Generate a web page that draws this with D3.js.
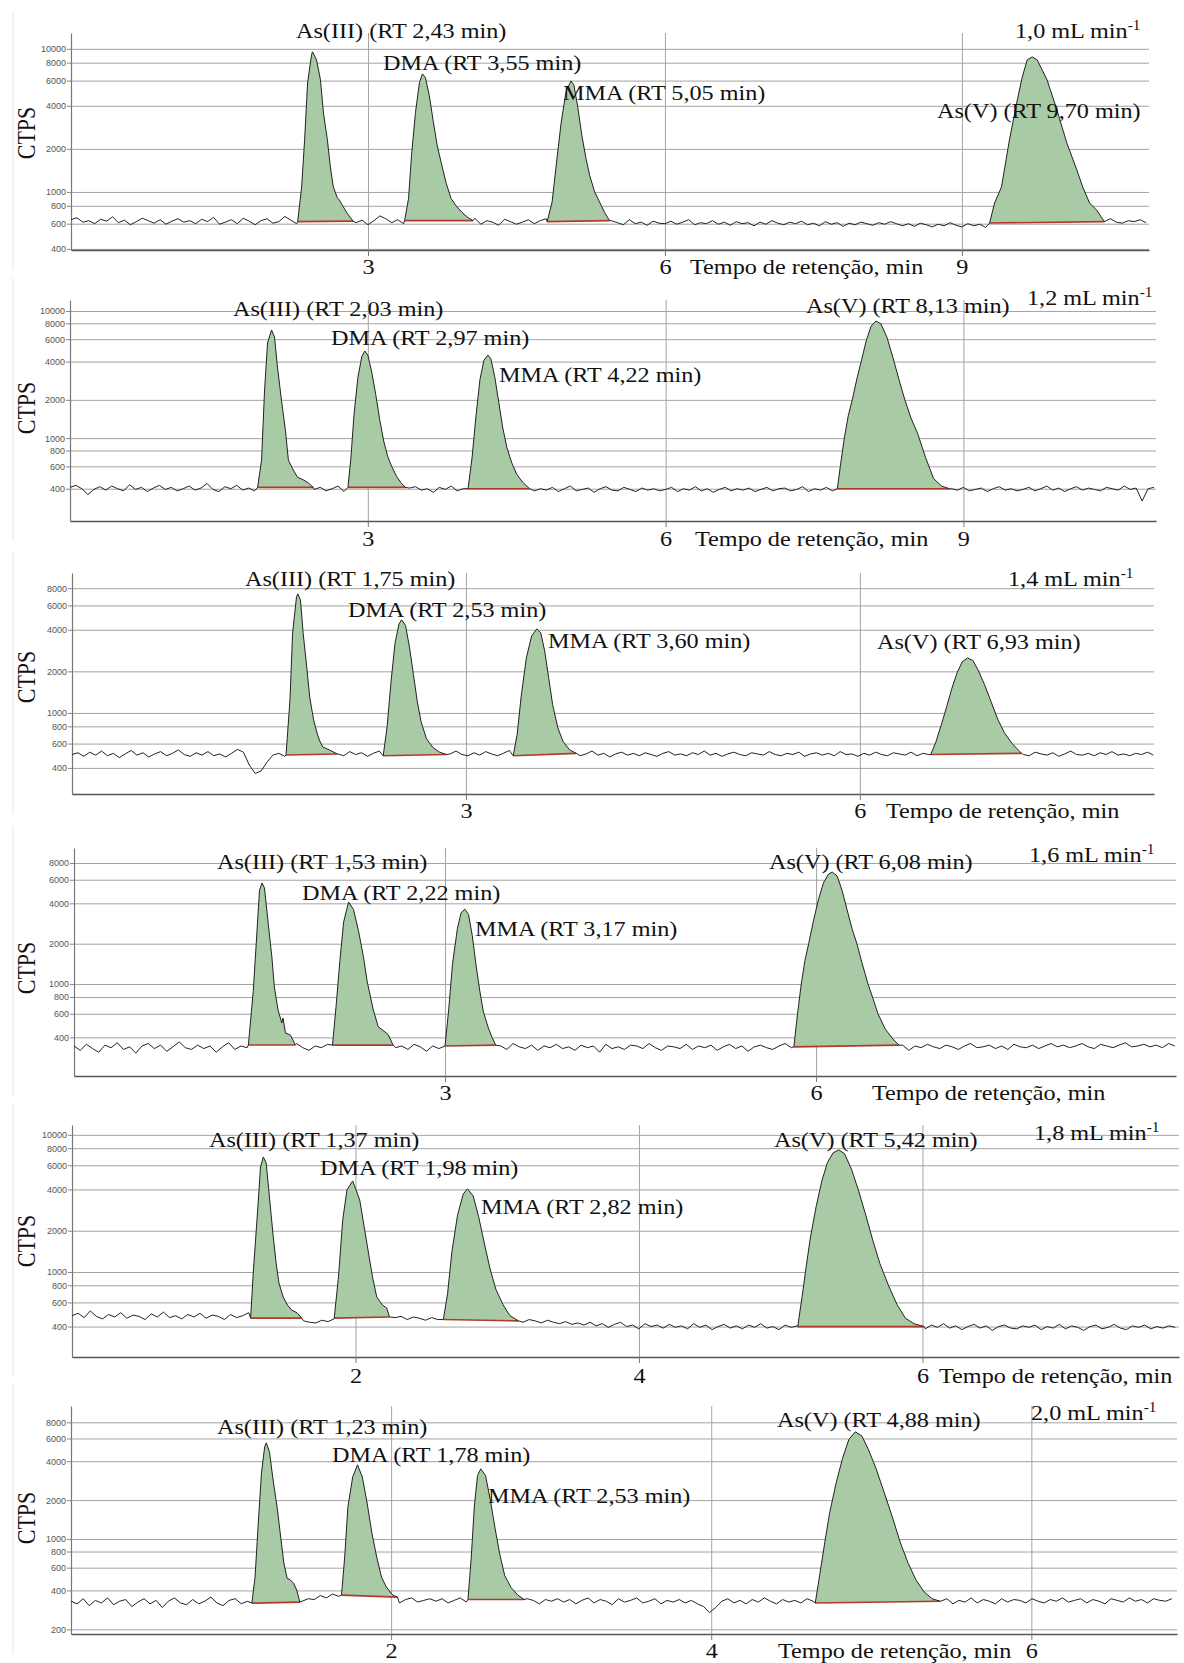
<!DOCTYPE html>
<html><head><meta charset="utf-8">
<script src="https://cdn.jsdelivr.net/npm/d3@7"></script>
<style>
body{margin:0;background:#fff;}
svg{display:block;}
</style></head><body>
<svg id="chart" width="1184" height="1663"></svg>
<script>
// ---------------- DATA ----------------
const flowRates = ["1,0","1,2","1,4","1,6","1,8","2,0"];
const species = ["As(III)","DMA","MMA","As(V)"];
const rtLabels = [
  ["2,43","3,55","5,05","9,70"],
  ["2,03","2,97","4,22","8,13"],
  ["1,75","2,53","3,60","6,93"],
  ["1,53","2,22","3,17","6,08"],
  ["1,37","1,98","2,82","5,42"],
  ["1,23","1,78","2,53","4,88"]
];
const yTicksA = [10000,8000,6000,4000,2000,1000,800,600,400];
const yTicksB = [8000,6000,4000,2000,1000,800,600,400];
const yTicksC = [8000,6000,4000,2000,1000,800,600,400,200];
const yTickSets = [yTicksA,yTicksA,yTicksB,yTicksB,yTicksA,yTicksC];
const xTickSets = [[3,6,9],[3,6,9],[3,6],[3,6],[2,4,6],[2,4,6]];
const xDomains = [[0,10.89],[0,10.94],[0,8.24],[0,8.91],[0,7.81],[0,6.91]];
const yDomains = [[393,12900],[223,12200],[259,10300],[206,10350],[240,11800],[184,10700]];
const axisTitle = "Tempo de retenção, min";

// baseline (noise) samples, regular time step per panel (min)
const noiseSteps = [0.06,0.06,0.045,0.05,0.043,0.038];
const noise1 = [
640,660,615,630,600,645,625,670,610,635,590,620,655,630,605,640,595,625,650,615,
630,600,645,620,665,595,615,640,600,655,625,590,630,650,605,620,675,635,600,615,
640,620,600,650,630,595,625,645,610,635,590,630,680,650,610,640,600,625,655,615,
595,630,610,645,600,620,640,605,655,595,630,615,585,645,620,595,615,640,600,630,
650,600,625,615,585,635,605,645,600,620,580,630,610,590,640,600,615,585,625,605,
600,625,595,615,640,590,610,600,630,595,615,585,620,600,610,580,615,595,630,605,
590,615,600,625,590,605,580,620,595,610,575,605,590,615,600,585,610,595,620,600,
580,600,575,605,590,570,595,580,610,585,570,600,580,595,565,590,575,600,585,605,
630,600,650,620,605,640,615,630,600,645,625,610,635,600,620,650,615,605,630,620,
640,610];
const noise2 = [
410,425,400,360,395,415,390,420,400,385,430,395,410,380,405,425,395,410,385,400,
420,390,405,440,395,380,415,400,425,390,405,385,435,400,410,380,395,420,390,405,
430,395,410,385,400,420,380,405,395,415,390,400,425,385,410,395,380,405,415,390,
400,375,410,395,420,385,400,415,380,395,405,390,420,400,380,410,395,405,385,400,
390,410,380,400,420,385,395,405,375,400,415,390,385,410,395,380,405,390,400,385,
395,410,380,400,390,415,385,400,375,395,410,385,400,390,405,380,395,410,385,400,
405,385,395,415,380,400,390,410,385,395,405,380,400,390,415,395,380,405,390,400,
410,390,400,380,405,395,415,385,400,390,410,385,395,405,380,400,415,390,400,385,
395,410,385,400,420,390,405,380,400,415,390,405,395,385,410,400,390,420,395,405,
320,400,410];
const noise3 = [
500,515,485,520,495,530,490,510,475,505,535,495,515,480,505,525,490,510,540,500,
485,515,495,525,490,505,480,510,545,520,420,365,380,440,495,510,485,505,520,495,
510,530,495,520,540,505,490,525,500,515,485,510,530,495,520,500,485,515,505,490,
520,495,510,485,505,530,500,490,515,495,525,505,490,510,535,500,515,490,505,520,
495,510,485,525,500,515,490,505,530,495,510,480,505,520,495,510,490,515,500,485,
510,525,495,505,490,515,500,530,495,510,485,505,520,500,490,515,505,495,525,500,
490,510,500,520,485,505,515,495,510,490,525,500,505,485,510,495,520,500,490,515,
505,495,520,490,510,500,485,515,505,495,525,500,510,490,505,520,495,510,500,485,
510,500,490,520,505,495,515,485,505,530,500,495,510,490,515,500,525,495,505,490,
510,500,520,495];
const noise4 = [
345,320,355,330,310,350,335,365,325,340,305,345,360,330,350,315,340,370,335,325,
350,330,345,310,340,365,325,345,335,355,320,340,350,315,345,330,360,335,320,345,
335,355,325,340,350,310,345,330,365,340,320,350,335,345,325,355,340,315,345,330,
350,325,345,360,330,340,315,350,335,345,325,360,340,330,350,320,345,335,355,330,
340,320,350,335,345,310,355,330,340,325,350,345,330,360,335,320,345,340,330,355,
325,345,335,350,320,340,355,330,345,315,340,350,335,325,345,360,335,340,320,350,
340,330,355,335,345,320,350,340,325,345,360,335,340,330,350,320,345,335,355,340,
330,350,340,325,345,360,335,340,350,330,345,325,355,340,335,350,330,345,360,340,
350,335,345,360,340,330,355,345,335,350,365,340,345,355,340,350,335,360,345];
const noise5 = [
480,500,465,520,475,455,490,470,505,460,485,475,450,495,470,510,465,480,455,490,
470,500,460,485,475,450,490,465,480,505,470,455,485,460,475,450,465,480,440,430,
425,445,435,455,470,460,475,450,465,480,455,470,445,465,475,450,470,460,445,465,
450,470,455,445,460,450,470,455,440,460,450,435,455,445,430,450,440,425,445,430,
420,435,415,425,410,430,405,420,395,415,430,400,410,385,420,400,410,390,415,395,
405,385,420,395,410,380,400,415,390,405,385,410,395,420,390,400,380,410,395,405,
390,410,395,405,385,400,415,390,400,385,410,395,405,380,400,415,390,405,395,400,
385,410,395,420,390,405,380,400,415,390,405,375,400,410,390,385,405,395,410,380,
400,390,415,385,405,395,375,400,410,385,395,415,390,380,405,395,410,385,400,390,
405,395];
const noise6 = [
330,315,345,305,335,320,350,310,330,340,300,325,345,315,335,295,330,350,320,310,
340,315,330,355,320,305,335,345,315,330,300,340,325,315,345,330,310,335,330,345,
340,365,350,375,360,380,345,335,350,325,340,355,330,345,320,340,350,325,335,345,
330,345,320,335,350,325,340,315,330,345,325,340,355,330,320,345,335,315,340,330,
345,325,340,315,335,350,320,340,330,310,345,325,335,350,320,330,345,315,335,325,
340,320,335,315,300,270,295,330,345,320,335,315,340,325,350,330,315,340,325,335,
320,345,330,315,335,325,340,320,335,330,345,325,315,340,330,335,320,345,330,325,
335,320,340,330,345,315,335,325,350,320,340,330,315,345,325,340,335,320,345,330,
320,340,330,350,325,335,345,320,340,330,315,345,335,325,350,330,340,320,345,335,
330,345];

// peak outlines [time (min), CTPS] : As(III), DMA, MMA, As(V)
const peaks1 = [
 [[2.29,620],[2.33,1085],[2.36,2310],[2.39,5780],[2.43,9080],[2.44,9530],[2.48,8380],[2.52,6070],[2.55,3570],[2.59,2310],[2.62,1500],[2.65,1085],[2.69,910],[2.71,880],[2.74,810],[2.79,710],[2.85,625]],
 [[3.37,630],[3.41,900],[3.44,1800],[3.48,3600],[3.52,5800],[3.55,6680],[3.58,6300],[3.62,4700],[3.66,3100],[3.70,2100],[3.74,1600],[3.79,1150],[3.84,900],[3.89,800],[3.95,720],[4.00,670],[4.06,630]],
 [[4.81,620],[4.86,850],[4.90,1500],[4.95,3000],[5.00,5000],[5.05,5970],[5.08,5600],[5.12,3900],[5.16,2500],[5.20,1750],[5.24,1300],[5.29,1000],[5.34,850],[5.39,720],[5.44,630]],
 [[9.28,607],[9.33,837],[9.40,1085],[9.48,2310],[9.56,4400],[9.61,6370],[9.66,8380],[9.71,8790],[9.76,8380],[9.86,6070],[9.96,3740],[10.06,2200],[10.16,1430],[10.22,1085],[10.29,837],[10.36,748],[10.44,620]]
];
const peaks2 = [
 [[1.89,410],[1.93,671],[1.96,2390],[1.99,5600],[2.03,7080],[2.06,6240],[2.09,3620],[2.13,1990],[2.17,1155],[2.20,671],[2.24,580],[2.29,494],[2.35,470],[2.40,445],[2.45,410]],
 [[2.80,410],[2.83,700],[2.86,1500],[2.90,3000],[2.94,4400],[2.97,4840],[3.00,4500],[3.04,3300],[3.08,2200],[3.12,1400],[3.16,950],[3.20,720],[3.24,600],[3.29,500],[3.34,440],[3.38,410]],
 [[4.01,400],[4.05,700],[4.09,1500],[4.13,2900],[4.17,4100],[4.21,4500],[4.24,4200],[4.28,3000],[4.32,1900],[4.36,1200],[4.40,850],[4.45,640],[4.50,520],[4.56,450],[4.63,400]],
 [[7.73,400],[7.76,600],[7.80,1000],[7.84,1500],[7.88,2000],[7.93,3000],[7.97,4000],[8.02,5800],[8.07,7600],[8.12,8340],[8.17,7900],[8.23,6200],[8.29,4300],[8.35,2900],[8.41,2000],[8.47,1450],[8.54,1080],[8.62,700],[8.70,480],[8.78,420],[8.86,400]]
];
const peaks3 = [
 [[1.63,496],[1.66,1242],[1.68,3800],[1.71,6930],[1.72,7270],[1.74,6580],[1.76,3800],[1.79,2050],[1.81,1306],[1.84,890],[1.87,693],[1.89,617],[1.91,567],[1.96,540],[2.02,505]],
 [[2.37,490],[2.40,800],[2.43,1700],[2.46,3200],[2.49,4400],[2.51,4720],[2.54,4300],[2.57,3000],[2.60,1900],[2.63,1200],[2.66,850],[2.70,650],[2.75,560],[2.80,520],[2.85,500]],
 [[3.36,490],[3.39,700],[3.42,1300],[3.46,2500],[3.50,3600],[3.54,4060],[3.57,3800],[3.60,2800],[3.63,1800],[3.66,1150],[3.70,780],[3.74,620],[3.79,540],[3.84,510]],
 [[6.54,500],[6.58,620],[6.62,820],[6.66,1100],[6.70,1500],[6.74,1950],[6.78,2350],[6.82,2500],[6.86,2400],[6.90,2050],[6.95,1600],[7.00,1200],[7.05,900],[7.10,720],[7.16,600],[7.23,510]]
];
const peaks4 = [
 [[1.41,351],[1.45,902],[1.48,2530],[1.50,5020],[1.52,5670],[1.54,5210],[1.57,2850],[1.60,1590],[1.62,950],[1.65,640],[1.68,512],[1.69,557],[1.71,431],[1.75,416],[1.79,351]],
 [[2.09,350],[2.12,700],[2.15,1500],[2.18,2900],[2.22,4090],[2.26,3600],[2.30,2500],[2.34,1600],[2.37,1050],[2.42,640],[2.46,480],[2.50,450],[2.54,420],[2.58,350]],
 [[3.00,345],[3.03,650],[3.06,1400],[3.10,2600],[3.13,3400],[3.16,3620],[3.19,3300],[3.22,2300],[3.25,1400],[3.28,900],[3.31,620],[3.35,470],[3.38,400],[3.41,350]],
 [[5.82,340],[5.85,600],[5.88,1000],[5.91,1500],[5.94,2000],[5.98,3000],[6.02,4300],[6.06,5700],[6.10,6600],[6.13,6850],[6.17,6400],[6.21,5000],[6.25,3600],[6.29,2600],[6.33,2000],[6.37,1450],[6.42,1000],[6.46,780],[6.50,600],[6.56,460],[6.62,390],[6.67,350]]
];
const peaks5 = [
 [[1.26,461],[1.28,1034],[1.31,2840],[1.33,5840],[1.35,6900],[1.37,6240],[1.39,3780],[1.42,1800],[1.44,1163],[1.46,831],[1.49,657],[1.52,574],[1.55,528],[1.59,502],[1.62,461]],
 [[1.85,461],[1.88,920],[1.91,2400],[1.94,3970],[1.98,4610],[2.03,3350],[2.08,1630],[2.12,920],[2.15,657],[2.19,574],[2.22,547],[2.24,470]],
 [[2.62,450],[2.65,700],[2.68,1400],[2.72,2600],[2.76,3700],[2.79,4040],[2.83,3600],[2.87,2500],[2.91,1600],[2.95,1050],[2.99,750],[3.04,580],[3.09,480],[3.15,440]],
 [[5.12,400],[5.15,650],[5.18,1100],[5.21,1800],[5.25,3000],[5.29,4600],[5.33,6300],[5.37,7400],[5.41,7770],[5.45,7300],[5.50,5600],[5.55,3900],[5.60,2600],[5.65,1700],[5.70,1150],[5.76,800],[5.82,580],[5.88,460],[5.94,420],[6.01,400]]
];
const peaks6 = [
 [[1.13,319],[1.15,507],[1.17,1330],[1.19,3250],[1.21,5170],[1.22,5550],[1.24,4720],[1.26,3020],[1.29,1680],[1.31,1036],[1.33,651],[1.35,499],[1.37,481],[1.39,456],[1.41,403],[1.43,325]],
 [[1.69,368],[1.71,725],[1.73,1770],[1.76,3020],[1.79,3750],[1.82,3020],[1.85,1900],[1.88,1110],[1.91,725],[1.94,507],[1.97,425],[2.01,368],[2.04,355]],
 [[2.48,340],[2.50,700],[2.52,1800],[2.54,3100],[2.56,3490],[2.59,3100],[2.62,2000],[2.65,1200],[2.68,750],[2.71,520],[2.75,420],[2.79,370],[2.83,340]],
 [[4.65,320],[4.68,550],[4.71,950],[4.74,1600],[4.78,2700],[4.82,4200],[4.86,5900],[4.90,6750],[4.94,6300],[4.98,5000],[5.03,3500],[5.08,2300],[5.13,1500],[5.18,950],[5.23,650],[5.28,480],[5.33,390],[5.38,345],[5.43,330]]
];
const noiseSets = [noise1,noise2,noise3,noise4,noise5,noise6];
const peakSets = [peaks1,peaks2,peaks3,peaks4,peaks5,peaks6];

// ---------------- LAYOUT ----------------
const layout = [
 {left:71,right:1149,top:33,bottom:250,ctpsY:133,titleX:690,tickDy:16,
  labels:[[296,30],[383,62],[563,92],[937,110]],flow:[1015,30]},
 {left:70,right:1156,top:300,bottom:521,ctpsY:408,titleX:695,tickDy:17,
  labels:[[233,308],[331,337],[499,374],[806,305]],flow:[1027,297]},
 {left:72,right:1154,top:573,bottom:794,ctpsY:677,titleX:886,tickDy:16,
  labels:[[245,578],[348,609],[548,640],[877,641]],flow:[1008,578]},
 {left:74,right:1176,top:848,bottom:1076,ctpsY:968,titleX:872,tickDy:16,
  labels:[[217,861],[302,892],[475,928],[769,861]],flow:[1029,854]},
 {left:72,right:1179,top:1125,bottom:1357,ctpsY:1241,titleX:939,tickDy:18,
  labels:[[209,1139],[320,1167],[481,1206],[774,1139]],flow:[1034,1132]},
 {left:71,right:1177,top:1406,bottom:1634,ctpsY:1518,titleX:778,tickDy:16,
  labels:[[217,1426],[332,1454],[488,1495],[777,1419]],flow:[1031,1412]}
];

const SX = 1.1;
const serif = "'Liberation Serif','Times New Roman',serif";
const svg = d3.select("#chart");

function serifText(g, x, y, str, anchor){
  return g.append("text")
    .attr("transform",`translate(${x},${y}) scale(${SX},1)`)
    .attr("text-anchor",anchor||"start").attr("dy","0.35em")
    .style("font-family",serif).style("font-size","22px")
    .attr("fill","#111").text(str);
}

layout.forEach((L,i)=>{
  const x = d3.scaleLinear().domain(xDomains[i]).range([L.left,L.right]);
  const y = d3.scaleLog().domain(yDomains[i]).range([L.bottom,L.top]);
  const g = svg.append("g");

  // faint panel frame on the left
  g.append("line").attr("x1",13).attr("x2",13)
    .attr("y1",L.top-22).attr("y2",L.bottom+20)
    .attr("stroke","#e6e6e6").attr("stroke-width",1);

  // horizontal grid
  g.append("g").attr("transform",`translate(${L.left},0)`)
    .call(d3.axisLeft(y).tickValues(yTickSets[i]).tickSize(-(L.right-L.left)).tickFormat(""))
    .call(a=>a.select(".domain").remove())
    .call(a=>a.selectAll("line").attr("stroke","#a3a3a3").attr("stroke-width",1));

  // vertical grid
  g.append("g").attr("transform",`translate(0,${L.bottom})`)
    .call(d3.axisBottom(x).tickValues(xTickSets[i]).tickSize(-(L.bottom-L.top)).tickFormat(""))
    .call(a=>a.select(".domain").remove())
    .call(a=>a.selectAll("line").attr("stroke","#a3a3a3").attr("stroke-width",1));

  // y axis
  g.append("g").attr("transform",`translate(${L.left},0)`)
    .call(d3.axisLeft(y).tickValues(yTickSets[i]).tickSize(4).tickSizeOuter(0).tickPadding(1).tickFormat(d3.format("d")))
    .call(a=>a.select(".domain").attr("stroke","#777").attr("stroke-width",1.2))
    .call(a=>a.selectAll(".tick line").attr("stroke","#888"))
    .call(a=>a.selectAll(".tick text").attr("fill","#555")
       .style("font-family","'Liberation Sans',Arial,sans-serif").style("font-size","9px"));

  // x axis
  g.append("g").attr("transform",`translate(0,${L.bottom})`)
    .call(d3.axisBottom(x).tickValues(xTickSets[i]).tickSize(6).tickSizeOuter(0).tickFormat(d3.format("d")))
    .call(a=>a.select(".domain").attr("stroke","#555").attr("stroke-width",1.6))
    .call(a=>a.selectAll(".tick line").attr("stroke","#777"))
    .call(a=>a.selectAll(".tick text").attr("y",L.tickDy).attr("dy","0.35em")
       .attr("transform",`scale(${SX},1)`).attr("fill","#111")
       .style("font-family",serif).style("font-size","22px"));

  // axis title
  serifText(g, L.titleX, L.bottom+L.tickDy, axisTitle);

  // CTPS label
  g.append("text")
    .attr("transform",`translate(27,${L.ctpsY}) scale(${SX},1) rotate(-90)`)
    .attr("text-anchor","middle").attr("dy","0.35em")
    .style("font-family",serif).style("font-size","22px").attr("fill","#111")
    .text("CTPS");

  // trace
  const peaks = peakSets[i], noise = noiseSets[i], step = noiseSteps[i];
  const pts = [];
  noise.forEach((v,k)=>{
    const t = k*step;
    if (t > xDomains[i][1]+1e-9) return;
    if (peaks.some(p=> t>=p[0][0] && t<=p[p.length-1][0])) return;
    pts.push([t,v]);
  });
  peaks.forEach(p=>p.forEach(d=>pts.push(d)));
  pts.sort((a,b)=>a[0]-b[0]);

  const line = d3.line().x(d=>x(d[0])).y(d=>y(d[1]));

  // peak fills + integration baselines
  peaks.forEach(p=>{
    g.append("path").attr("d", line(p)+"Z")
      .attr("fill","#a8caa5").attr("stroke","none");
  });
  peaks.forEach(p=>{
    const a = p[0], b = p[p.length-1];
    g.append("line").attr("x1",x(a[0])).attr("y1",y(a[1]))
      .attr("x2",x(b[0])).attr("y2",y(b[1]))
      .attr("stroke","#b23a2a").attr("stroke-width",1.6);
  });

  g.append("path").attr("d", line(pts))
    .attr("fill","none").attr("stroke","#222").attr("stroke-width",1)
    .attr("stroke-linejoin","round");

  // species labels
  L.labels.forEach((pos,j)=>{
    serifText(g, pos[0], pos[1], `${species[j]} (RT ${rtLabels[i][j]} min)`);
  });

  // flow rate label
  const ft = serifText(g, L.flow[0], L.flow[1], "");
  ft.append("tspan").text(`${flowRates[i]} mL min`);
  ft.append("tspan").attr("dy","-8").style("font-size","14px").text("-1");
});
</script>
</body></html>
